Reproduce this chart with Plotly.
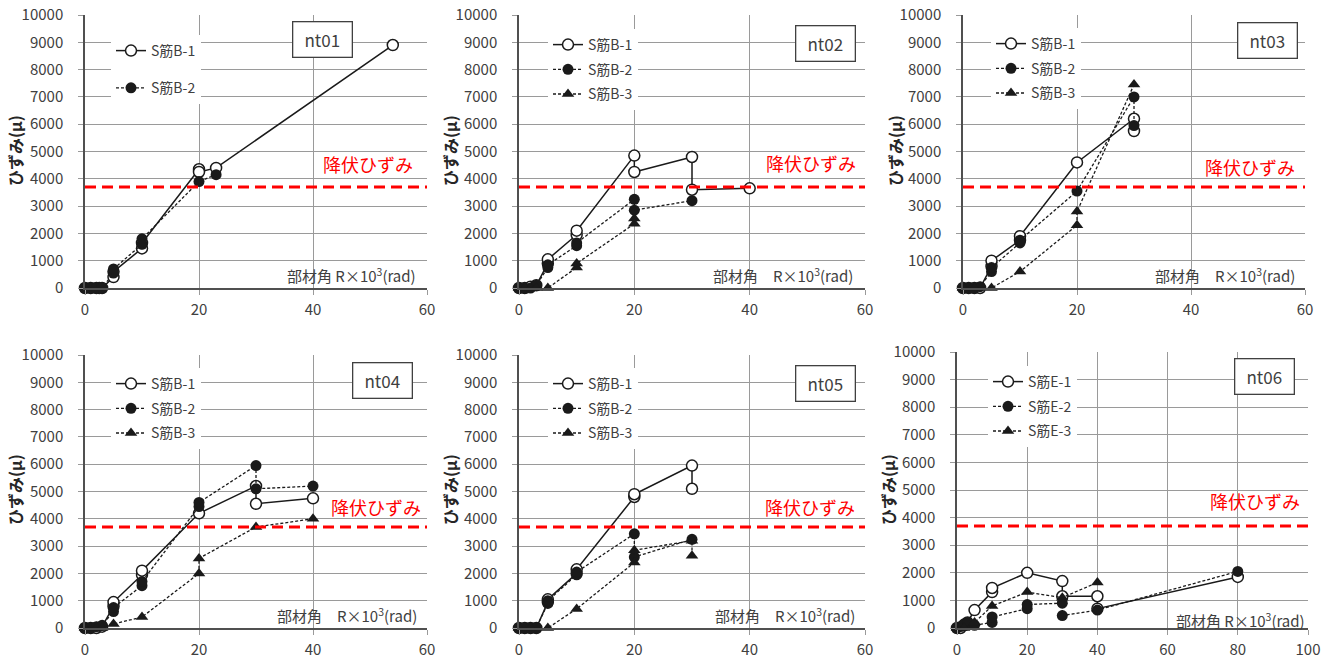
import plotly.graph_objects as go

# ---------------- data ----------------
PANEL_NAMES = ["nt01", "nt02", "nt03", "nt04", "nt05", "nt06"]
SERIES_B = ["S筋B-1", "S筋B-2", "S筋B-3"]
SERIES_E = ["S筋E-1", "S筋E-2", "S筋E-3"]
X_TICKS_60 = [0, 20, 40, 60]
X_TICKS_100 = [0, 20, 40, 60, 80, 100]
Y_TICKS = [0, 1000, 2000, 3000, 4000, 5000, 6000, 7000, 8000, 9000, 10000]
YIELD_STRAIN = 3700
YIELD_LABEL = "降伏ひずみ"
Y_TITLE = "ひずみ(μ)"
X_TITLE_WIDE = "部材角　R×10<sup>3</sup>(rad)"
X_TITLE_NARROW = "部材角 R×10<sup>3</sup>(rad)"

nt01_b1_x = [0, 1, 2, 2.5, 3, 5, 5, 10, 10, 20, 20, 23, 54]
nt01_b1_y = [0, 0, 0, 0, 0, 400, 600, 1450, 1650, 4350, 4250, 4400, 8900]
nt01_b2_x = [0, 1, 2, 3, 5, 5, 10, 10, 20, 23]
nt01_b2_y = [0, 0, 0, 0, 550, 700, 1600, 1800, 3900, 4150]

nt02_b1_x = [0, 1, 2, 3, 5, 5, 10, 10, 20, 20, 30, 30, 40]
nt02_b1_y = [0, 0, 50, 100, 900, 1050, 1950, 2100, 4850, 4250, 4800, 3600, 3650]
nt02_b2_x = [0, 1, 2, 3, 5, 5, 10, 10, 20, 20, 30]
nt02_b2_y = [0, 0, 0, 100, 750, 850, 1550, 1650, 3250, 2850, 3200]
nt02_b3_x = [0, 1, 2, 3, 5, 10, 10, 20, 20]
nt02_b3_y = [0, 0, 0, 0, 0, 750, 900, 2350, 2550]

nt03_b1_x = [0, 1, 2, 3, 5, 5, 10, 10, 20, 30, 30]
nt03_b1_y = [0, 0, 0, 0, 800, 1000, 1750, 1900, 4600, 6200, 5750]
nt03_b2_x = [0, 1, 2, 3, 5, 5, 10, 10, 20, 30, 30]
nt03_b2_y = [0, 0, 0, 50, 600, 750, 1650, 1750, 3550, 7000, 5950]
nt03_b3_x = [0, 2, 5, 10, 20, 20, 30]
nt03_b3_y = [0, 0, 0, 600, 2300, 2800, 7450]

nt04_b1_x = [0, 1, 2, 3, 5, 5, 10, 10, 20, 30, 30, 40]
nt04_b1_y = [0, 0, 0, 50, 800, 950, 1950, 2100, 4200, 5200, 4550, 4750]
nt04_b2_x = [0, 1, 2, 3, 5, 5, 10, 10, 20, 20, 30, 30, 40]
nt04_b2_y = [0, 0, 50, 100, 600, 750, 1550, 1700, 4450, 4600, 5950, 5100, 5200]
nt04_b3_x = [0, 2, 3, 5, 10, 20, 20, 30, 40]
nt04_b3_y = [0, 0, 0, 150, 400, 2000, 2550, 3700, 4000]

nt05_b1_x = [0, 1, 2, 3, 5, 5, 10, 10, 20, 20, 30, 30]
nt05_b1_y = [0, 0, 0, 0, 950, 1050, 2000, 2150, 4800, 4900, 5950, 5100]
nt05_b2_x = [0, 1, 2, 3, 5, 5, 10, 10, 20, 20, 30]
nt05_b2_y = [0, 0, 0, 0, 900, 1000, 1950, 2050, 3450, 2600, 3250]
nt05_b3_x = [0, 2, 5, 10, 20, 20, 30, 30]
nt05_b3_y = [0, 0, 0, 700, 2400, 2850, 3200, 2650]

nt06_e1_x = [0, 1, 2, 3, 5, 10, 10, 20, 30, 30, 40, 40, 80]
nt06_e1_y = [0, 0, 100, 200, 650, 1300, 1450, 2000, 1700, 1150, 1150, 700, 1850]
nt06_e2_x = [0, 1, 2, 3, 5, 10, 10, 20, 20, 30, 30, 40, 80]
nt06_e2_y = [0, 50, 150, 200, 100, 200, 400, 700, 850, 900, 450, 650, 2050]
nt06_e3_x = [0, 2, 5, 10, 20, 30, 40]
nt06_e3_y = [0, 0, 200, 800, 1300, 1100, 1650]

PANEL_SERIES = [
    [(nt01_b1_x, nt01_b1_y), (nt01_b2_x, nt01_b2_y)],
    [(nt02_b1_x, nt02_b1_y), (nt02_b2_x, nt02_b2_y), (nt02_b3_x, nt02_b3_y)],
    [(nt03_b1_x, nt03_b1_y), (nt03_b2_x, nt03_b2_y), (nt03_b3_x, nt03_b3_y)],
    [(nt04_b1_x, nt04_b1_y), (nt04_b2_x, nt04_b2_y), (nt04_b3_x, nt04_b3_y)],
    [(nt05_b1_x, nt05_b1_y), (nt05_b2_x, nt05_b2_y), (nt05_b3_x, nt05_b3_y)],
    [(nt06_e1_x, nt06_e1_y), (nt06_e2_x, nt06_e2_y), (nt06_e3_x, nt06_e3_y)],
]
PANEL_LABELS = [SERIES_B, SERIES_B, SERIES_B, SERIES_B, SERIES_B, SERIES_E]
PANEL_XTICKS = [X_TICKS_60] * 5 + [X_TICKS_100]

# ---------------- layout geometry (pixels) ----------------
W, H = 1328, 659
BOXES = [(85, 427, 15, 288), (519, 865, 15, 288), (963, 1305, 15, 288),
         (85, 427, 355, 628), (519, 865, 355, 628), (957, 1308, 352, 628)]
NT_POS = [(0.694, 0.910), (0.887, 0.896), (0.889, 0.906),
          (0.871, 0.907), (0.887, 0.897), (0.875, 0.910)]
YIELD_POS = [(0.965, 0.456), (0.980, 0.457), (0.977, 0.444),
             (0.988, 0.444), (0.977, 0.444), (0.983, 0.460)]
XT_POS = [(0.974, 0.049), (0.971, 0.046), (0.977, 0.049),
          (0.977, 0.049), (0.977, 0.047), (0.997, 0.030)]
YT_PIX = [(15, 151), (450, 151), (895, 151), (15, 490), (450, 490), (888, 490)]
LEG_PIX = [(111, 35), (548, 29), (991, 28), (111, 368), (548, 368), (988, 366)]
LEG_GAP = [16, 3.5, 3.5, 3.5, 3.5, 3.5]

FONT = "Noto Sans CJK JP"
INK = "#1a1a1a"
STYLES = [
    dict(line=dict(color=INK, width=1.5),
         marker=dict(symbol="circle", size=11, color="white", line=dict(color=INK, width=1.5))),
    dict(line=dict(color=INK, width=1.3, dash="3px,2px"),
         marker=dict(symbol="circle", size=11, color=INK, line=dict(color=INK, width=0))),
    dict(line=dict(color=INK, width=1.3, dash="3px,2px"),
         marker=dict(symbol="triangle-up", size=11, color=INK, line=dict(color=INK, width=0))),
]

fig = go.Figure()
layout = dict(width=W, height=H, margin=dict(l=0, r=0, t=0, b=0, autoexpand=False),
              paper_bgcolor="white", plot_bgcolor="white",
              font=dict(family=FONT, color="#404040"), annotations=[], shapes=[])

for i in range(6):
    k = "" if i == 0 else str(i + 1)
    xa, ya = "x" + k, "y" + k
    leg = "legend" + k
    x0, x1, y0, y1 = BOXES[i]
    xt = PANEL_XTICKS[i]
    for j, (xs, ys) in enumerate(PANEL_SERIES[i]):
        st = STYLES[j]
        fig.add_trace(go.Scatter(
            x=xs, y=ys, mode="lines+markers", name=PANEL_LABELS[i][j],
            xaxis=xa, yaxis=ya, legend=leg, legendgroup=f"p{i}s{j}",
            line=st["line"], marker=st["marker"], cliponaxis=False))
    axis_common = dict(showgrid=True, gridcolor="#9a9a9a", gridwidth=1.2,
                       showline=True, linecolor="#505050", linewidth=1.5,
                       zeroline=False, ticks="outside", ticklen=5, tickcolor="#9a9a9a",
                       automargin=False,
                       tickfont=dict(size=15, color="#404040", family=FONT))
    layout["xaxis" + k] = dict(axis_common, domain=[x0 / W, x1 / W], anchor=ya,
                               range=[xt[0], xt[-1]], tickvals=xt,
                               ticktext=[str(v) for v in xt],
                               ticklabelstandoff=2)
    layout["yaxis" + k] = dict(axis_common, domain=[1 - y1 / H, 1 - y0 / H], anchor=xa,
                               range=[0, 10000], tickvals=Y_TICKS,
                               ticktext=[str(v) for v in Y_TICKS],
                               ticklabelstandoff=12)
    lx, ly = LEG_PIX[i]
    layout[leg] = dict(x=lx / W, y=1 - ly / H, xanchor="left", yanchor="top",
                       xref="paper", yref="paper", bgcolor="white", borderwidth=0,
                       font=dict(size=14, color="#404040", family=FONT),
                       traceorder="grouped", tracegroupgap=LEG_GAP[i])
    # yield line
    layout["shapes"].append(dict(type="line", xref=xa + " domain", yref=ya,
                                 x0=0, x1=1, y0=YIELD_STRAIN, y1=YIELD_STRAIN,
                                 line=dict(color="#ff0000", width=3, dash="11px,6px")))
    # yield label
    px, py = YIELD_POS[i]
    layout["annotations"].append(dict(text=YIELD_LABEL, xref=xa + " domain", yref=ya + " domain",
                                      x=px, y=py, xanchor="right", yanchor="middle", showarrow=False,
                                      font=dict(size=18, color="#ff0000", family=FONT)))
    # x title inside plot
    px, py = XT_POS[i]
    layout["annotations"].append(dict(text=X_TITLE_NARROW if i in (0, 5) else X_TITLE_WIDE,
                                      xref=xa + " domain", yref=ya + " domain",
                                      x=px, y=py, xanchor="right", yanchor="middle", showarrow=False,
                                      font=dict(size=15, color="#404040", family=FONT)))
    # panel name box
    px, py = NT_POS[i]
    layout["annotations"].append(dict(text=PANEL_NAMES[i], xref=xa + " domain", yref=ya + " domain",
                                      x=px, y=py, xanchor="center", yanchor="middle", showarrow=False,
                                      width=56, height=32, borderpad=1, bgcolor="white",
                                      bordercolor="#404040", borderwidth=1.3,
                                      font=dict(size=17, color="#404040", family=FONT)))
    # y title
    tx, ty = YT_PIX[i]
    layout["annotations"].append(dict(text="<b>" + Y_TITLE + "</b>", xref="paper", yref="paper",
                                      x=tx / W, y=1 - ty / H, xanchor="center", yanchor="middle",
                                      textangle=-90, showarrow=False,
                                      font=dict(size=16, color="#262626", family=FONT)))

fig.update_layout(**layout)
fig.write_html("out.html", config={"displayModeBar": False},
               post_script="document.body.style.margin='0';")
